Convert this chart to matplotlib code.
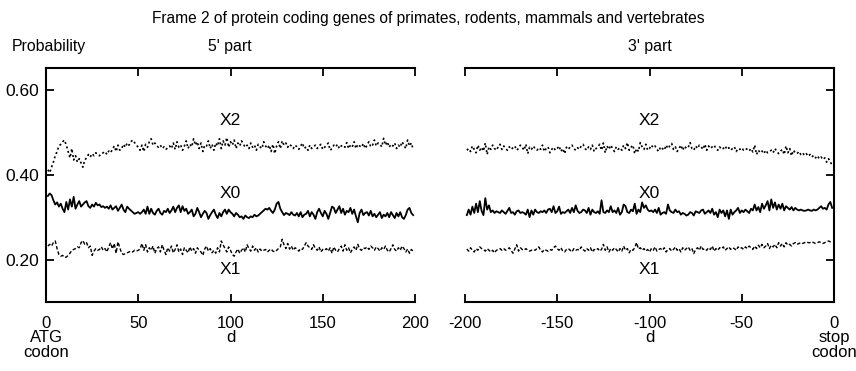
import numpy as np
import matplotlib
matplotlib.use("Agg")
import matplotlib.pyplot as plt

plt.rcParams['font.family'] = ['Liberation Sans', 'DejaVu Sans']

# ---------------- data ----------------
d_left = np.arange(1, 200)
d_right = np.arange(-199, 0)

left_x2 = [
    0.412, 0.405, 0.418, 0.430, 0.445, 0.455, 0.468, 0.472, 0.478, 0.482,
    0.470, 0.455, 0.440, 0.462, 0.435, 0.445, 0.430, 0.438, 0.428, 0.418,
    0.435, 0.440, 0.448, 0.442, 0.450, 0.445, 0.452, 0.448, 0.445, 0.450,
    0.452, 0.455, 0.448, 0.456, 0.452, 0.460, 0.468, 0.455, 0.470, 0.458,
    0.462, 0.472, 0.465, 0.475, 0.470, 0.478, 0.482, 0.476, 0.470, 0.465,
    0.458, 0.470, 0.455, 0.472, 0.465, 0.478, 0.485, 0.470, 0.475, 0.468,
    0.465, 0.470, 0.462, 0.466, 0.460, 0.464, 0.468, 0.462, 0.475, 0.460,
    0.478, 0.465, 0.470, 0.458, 0.468, 0.480, 0.462, 0.472, 0.466, 0.485,
    0.470, 0.478, 0.462, 0.475, 0.455, 0.470, 0.468, 0.480, 0.462, 0.472,
    0.458, 0.475, 0.468, 0.485, 0.462, 0.480, 0.470, 0.488, 0.465, 0.478,
    0.470, 0.482, 0.462, 0.475, 0.468, 0.480, 0.472, 0.465, 0.470, 0.462,
    0.475, 0.465, 0.470, 0.458, 0.472, 0.466, 0.462, 0.478, 0.468, 0.462,
    0.470, 0.455, 0.472, 0.450, 0.468, 0.478, 0.462, 0.480, 0.470, 0.475,
    0.465, 0.472, 0.468, 0.462, 0.470, 0.466, 0.460, 0.468, 0.475, 0.462,
    0.466, 0.458, 0.470, 0.462, 0.466, 0.470, 0.462, 0.468, 0.472, 0.460,
    0.465, 0.470, 0.475, 0.458, 0.462, 0.470, 0.466, 0.472, 0.462, 0.468,
    0.470, 0.465, 0.476, 0.462, 0.470, 0.466, 0.478, 0.462, 0.472, 0.468,
    0.465, 0.474, 0.462, 0.470, 0.478, 0.466, 0.470, 0.482, 0.468, 0.475,
    0.472, 0.466, 0.486, 0.470, 0.478, 0.465, 0.472, 0.468, 0.475, 0.462,
    0.470, 0.465, 0.478, 0.470, 0.462, 0.482, 0.468, 0.475, 0.460,
]

left_x0 = [
    0.350, 0.356, 0.352, 0.340, 0.330, 0.335, 0.325, 0.332, 0.320, 0.312,
    0.336, 0.318, 0.342, 0.325, 0.348, 0.320, 0.330, 0.338, 0.325, 0.330,
    0.335, 0.338, 0.326, 0.322, 0.330, 0.325, 0.334, 0.328, 0.330, 0.324,
    0.326, 0.322, 0.325, 0.320, 0.328, 0.318, 0.322, 0.326, 0.315, 0.322,
    0.330, 0.318, 0.312, 0.325, 0.320, 0.316, 0.312, 0.308, 0.310, 0.312,
    0.308, 0.312, 0.318, 0.308, 0.325, 0.308, 0.320, 0.310, 0.306, 0.315,
    0.320, 0.310, 0.306, 0.315, 0.312, 0.320, 0.310, 0.316, 0.325, 0.312,
    0.322, 0.328, 0.312, 0.326, 0.315, 0.320, 0.308, 0.312, 0.318, 0.302,
    0.308, 0.322, 0.312, 0.300, 0.308, 0.315, 0.310, 0.296, 0.305, 0.312,
    0.318, 0.306, 0.298, 0.310, 0.302, 0.312, 0.318, 0.308, 0.318, 0.312,
    0.308, 0.302, 0.310, 0.306, 0.300, 0.302, 0.296, 0.304, 0.300, 0.298,
    0.302, 0.300, 0.306, 0.302, 0.304, 0.308, 0.312, 0.316, 0.320, 0.318,
    0.322, 0.315, 0.310, 0.318, 0.332, 0.336, 0.320, 0.312, 0.305, 0.310,
    0.308, 0.305, 0.312, 0.306, 0.304, 0.310, 0.302, 0.312, 0.300, 0.306,
    0.308, 0.315, 0.302, 0.312, 0.306, 0.296, 0.312, 0.320, 0.310, 0.302,
    0.315, 0.308, 0.296, 0.310, 0.325, 0.322, 0.310, 0.318, 0.326, 0.310,
    0.320, 0.306, 0.315, 0.312, 0.322, 0.308, 0.318, 0.302, 0.288, 0.310,
    0.318, 0.305, 0.310, 0.312, 0.304, 0.315, 0.302, 0.308, 0.300, 0.306,
    0.312, 0.298, 0.306, 0.302, 0.310, 0.300, 0.312, 0.305, 0.298, 0.310,
    0.302, 0.312, 0.300, 0.296, 0.305, 0.318, 0.322, 0.310, 0.305,
]

left_x1 = [
    0.232, 0.236, 0.232, 0.240, 0.244, 0.226, 0.212, 0.208, 0.210, 0.205,
    0.206, 0.210, 0.215, 0.222, 0.224, 0.226, 0.230, 0.228, 0.240, 0.245,
    0.236, 0.240, 0.228, 0.232, 0.210, 0.220, 0.226, 0.222, 0.224, 0.230,
    0.222, 0.226, 0.218, 0.230, 0.240, 0.225, 0.238, 0.215, 0.242, 0.228,
    0.215, 0.212, 0.214, 0.216, 0.218, 0.220, 0.218, 0.222, 0.220, 0.222,
    0.225, 0.238, 0.222, 0.235, 0.218, 0.228, 0.222, 0.232, 0.215, 0.226,
    0.230, 0.218, 0.235, 0.222, 0.212, 0.228, 0.220, 0.232, 0.216, 0.224,
    0.235, 0.218, 0.225, 0.212, 0.228, 0.222, 0.216, 0.230, 0.220, 0.226,
    0.215, 0.228, 0.222, 0.218, 0.210, 0.225, 0.232, 0.220, 0.226, 0.216,
    0.222, 0.215, 0.228, 0.218, 0.244, 0.235, 0.226, 0.218, 0.230, 0.222,
    0.212, 0.208, 0.218, 0.225, 0.215, 0.222, 0.228, 0.218, 0.235, 0.226,
    0.220, 0.232, 0.222, 0.228, 0.218, 0.225, 0.220, 0.222, 0.224, 0.218,
    0.222, 0.225, 0.220, 0.218, 0.222, 0.226, 0.230, 0.248, 0.235, 0.226,
    0.238, 0.225, 0.232, 0.222, 0.228, 0.225, 0.220, 0.226, 0.224, 0.232,
    0.240, 0.232, 0.228, 0.224, 0.235, 0.226, 0.222, 0.230, 0.218, 0.224,
    0.222, 0.226, 0.220, 0.228, 0.215, 0.230, 0.222, 0.218, 0.226, 0.232,
    0.220, 0.235, 0.222, 0.228, 0.216, 0.224, 0.230, 0.222, 0.236, 0.225,
    0.222, 0.228, 0.226, 0.230, 0.224, 0.232, 0.228, 0.222, 0.230, 0.226,
    0.220, 0.228, 0.224, 0.232, 0.222, 0.218, 0.226, 0.235, 0.224, 0.220,
    0.228, 0.222, 0.232, 0.226, 0.218, 0.225, 0.215, 0.224, 0.220,
]

right_x2 = [
    0.458, 0.462, 0.455, 0.468, 0.460, 0.452, 0.470, 0.458, 0.465, 0.456,
    0.475, 0.448, 0.466, 0.460, 0.470, 0.462, 0.458, 0.466, 0.472, 0.460,
    0.468, 0.462, 0.458, 0.466, 0.460, 0.464, 0.468, 0.458, 0.462, 0.470,
    0.465, 0.458, 0.472, 0.450, 0.465, 0.460, 0.468, 0.462, 0.458, 0.464,
    0.460, 0.470, 0.455, 0.462, 0.466, 0.452, 0.460, 0.465, 0.458, 0.462,
    0.468, 0.455, 0.462, 0.450, 0.465, 0.460, 0.466, 0.470, 0.462, 0.458,
    0.464, 0.460, 0.468, 0.472, 0.462, 0.458, 0.466, 0.460, 0.470, 0.455,
    0.462, 0.466, 0.472, 0.458, 0.475, 0.452, 0.468, 0.460, 0.470, 0.462,
    0.455, 0.466, 0.460, 0.464, 0.458, 0.470, 0.462, 0.476, 0.458, 0.465,
    0.470, 0.450, 0.462, 0.455, 0.476, 0.466, 0.460, 0.472, 0.458, 0.462,
    0.470, 0.464, 0.468, 0.460, 0.455, 0.466, 0.462, 0.458, 0.470, 0.462,
    0.468, 0.474, 0.460, 0.466, 0.455, 0.462, 0.470, 0.458, 0.468, 0.462,
    0.465, 0.476, 0.462, 0.458, 0.468, 0.462, 0.470, 0.466, 0.460, 0.472,
    0.458, 0.468, 0.462, 0.466, 0.470, 0.462, 0.458, 0.466, 0.460, 0.462,
    0.468, 0.460, 0.464, 0.458, 0.462, 0.466, 0.455, 0.462, 0.460, 0.464,
    0.458, 0.462, 0.460, 0.456, 0.462, 0.454, 0.470, 0.448, 0.458, 0.452,
    0.456, 0.450, 0.458, 0.452, 0.455, 0.458, 0.452, 0.462, 0.455, 0.450,
    0.456, 0.460, 0.448, 0.468, 0.452, 0.462, 0.445, 0.458, 0.452, 0.450,
    0.455, 0.448, 0.452, 0.446, 0.450, 0.444, 0.448, 0.442, 0.446, 0.440,
    0.445, 0.438, 0.442, 0.436, 0.440, 0.430, 0.438, 0.432, 0.420,
]

right_x0 = [
    0.305, 0.318, 0.306, 0.325, 0.310, 0.332, 0.312, 0.338, 0.315, 0.305,
    0.345, 0.318, 0.328, 0.312, 0.316, 0.310, 0.314, 0.312, 0.310, 0.316,
    0.312, 0.308, 0.315, 0.322, 0.310, 0.312, 0.306, 0.314, 0.316, 0.310,
    0.312, 0.310, 0.306, 0.318, 0.300, 0.316, 0.306, 0.318, 0.312, 0.310,
    0.314, 0.312, 0.316, 0.310, 0.318, 0.320, 0.312, 0.326, 0.310, 0.314,
    0.325, 0.308, 0.312, 0.310, 0.314, 0.318, 0.310, 0.322, 0.312, 0.328,
    0.315, 0.310, 0.312, 0.318, 0.316, 0.310, 0.322, 0.306, 0.318, 0.312,
    0.310, 0.314, 0.308, 0.340, 0.312, 0.310, 0.316, 0.312, 0.326, 0.312,
    0.316, 0.310, 0.322, 0.306, 0.312, 0.330, 0.326, 0.312, 0.310, 0.318,
    0.314, 0.332, 0.308, 0.318, 0.312, 0.335, 0.322, 0.328, 0.318, 0.314,
    0.316, 0.312, 0.318, 0.310, 0.322, 0.306, 0.310, 0.312, 0.308, 0.330,
    0.316, 0.312, 0.310, 0.318, 0.312, 0.314, 0.306, 0.310, 0.308, 0.304,
    0.306, 0.312, 0.310, 0.304, 0.314, 0.312, 0.310, 0.316, 0.318, 0.308,
    0.312, 0.316, 0.310, 0.320, 0.306, 0.312, 0.300, 0.318, 0.310, 0.316,
    0.302, 0.316, 0.296, 0.318, 0.306, 0.312, 0.316, 0.322, 0.310, 0.316,
    0.312, 0.318, 0.314, 0.310, 0.320, 0.316, 0.330, 0.316, 0.324, 0.312,
    0.332, 0.320, 0.328, 0.338, 0.316, 0.342, 0.322, 0.335, 0.318, 0.330,
    0.320, 0.332, 0.316, 0.326, 0.322, 0.318, 0.324, 0.316, 0.322, 0.318,
    0.316, 0.318, 0.316, 0.315, 0.316, 0.318, 0.316, 0.315, 0.318, 0.316,
    0.318, 0.322, 0.326, 0.320, 0.322, 0.318, 0.330, 0.336, 0.322,
]

right_x1 = [
    0.225, 0.220, 0.228, 0.222, 0.218, 0.226, 0.222, 0.230, 0.226, 0.224,
    0.220, 0.226, 0.222, 0.218, 0.222, 0.216, 0.222, 0.224, 0.226, 0.222,
    0.226, 0.222, 0.224, 0.228, 0.222, 0.215, 0.225, 0.235, 0.220, 0.228,
    0.224, 0.222, 0.226, 0.222, 0.220, 0.222, 0.224, 0.222, 0.226, 0.230,
    0.222, 0.218, 0.224, 0.222, 0.220, 0.224, 0.222, 0.228, 0.232, 0.226,
    0.222, 0.228, 0.220, 0.218, 0.224, 0.226, 0.222, 0.218, 0.226, 0.222,
    0.224, 0.222, 0.230, 0.224, 0.220, 0.226, 0.222, 0.228, 0.218, 0.224,
    0.222, 0.226, 0.220, 0.224, 0.236, 0.222, 0.230, 0.218, 0.226, 0.222,
    0.228, 0.224, 0.218, 0.226, 0.220, 0.232, 0.222, 0.226, 0.216, 0.224,
    0.222, 0.228, 0.240, 0.225, 0.228, 0.222, 0.226, 0.220, 0.224, 0.218,
    0.226, 0.222, 0.230, 0.220, 0.224, 0.226, 0.222, 0.228, 0.218, 0.224,
    0.226, 0.220, 0.224, 0.230, 0.222, 0.226, 0.218, 0.228, 0.222, 0.226,
    0.230, 0.222, 0.226, 0.214, 0.224, 0.228, 0.222, 0.232, 0.224, 0.226,
    0.222, 0.228, 0.224, 0.232, 0.220, 0.226, 0.222, 0.228, 0.226, 0.230,
    0.222, 0.226, 0.230, 0.224, 0.228, 0.226, 0.222, 0.230, 0.226, 0.228,
    0.224, 0.230, 0.226, 0.232, 0.228, 0.224, 0.232, 0.226, 0.234, 0.228,
    0.236, 0.228, 0.232, 0.238, 0.226, 0.234, 0.230, 0.236, 0.228, 0.240,
    0.232, 0.238, 0.230, 0.240, 0.234, 0.236, 0.232, 0.238, 0.240, 0.236,
    0.238, 0.240, 0.238, 0.240, 0.242, 0.240, 0.240, 0.242, 0.240, 0.238,
    0.240, 0.242, 0.240, 0.238, 0.240, 0.242, 0.244, 0.242, 0.245,
]

series_names = ["X2", "X0", "X1"]
label_y = [0.527, 0.355, 0.176]
left_ticks = [0, 50, 100, 150, 200]
left_ticklabels = ["0\nATG\ncodon", "50", "100\nd", "150", "200"]
right_ticks = [-200, -150, -100, -50, 0]
right_ticklabels = ["-200", "-150", "-100\nd", "-50", "0\nstop\ncodon"]
y_ticks = [0.20, 0.40, 0.60]
y_ticklabels = ["0.20", "0.40", "0.60"]

# ---------------- figure ----------------
fig = plt.figure(figsize=(8.56, 3.71), dpi=100)
axL = fig.add_axes([46 / 856, 1 - 302 / 371, 369 / 856, 234 / 371])
axR = fig.add_axes([465 / 856, 1 - 302 / 371, 369 / 856, 234 / 371])

styles = {"X2": dict(ls=(0, (1.2, 1.6)), lw=1.2),
          "X0": dict(ls="-", lw=1.3),
          "X1": dict(ls=(0, (2.5, 1.5)), lw=1.0)}

for ax, d, data in [(axL, d_left, [left_x2, left_x0, left_x1]),
                    (axR, d_right, [right_x2, right_x0, right_x1])]:
    for name, vals in zip(series_names, data):
        ax.plot(d, vals, color="black", **styles[name])
    ax.set_ylim(0.10, 0.652)
    for sp in ax.spines.values():
        sp.set_linewidth(1.5)
    ax.tick_params(direction="in", length=6, width=1.3, labelsize=12.5,
                   top=True, bottom=True)

axL.set_xlim(0, 200)
axR.set_xlim(-200, 0)
axL.spines["right"].set_visible(False)
axR.spines["left"].set_visible(False)

axL.set_xticks(left_ticks)
axL.set_xticklabels(left_ticklabels, va="top", linespacing=0.95)
axR.set_xticks(right_ticks)
axR.set_xticklabels(right_ticklabels, va="top", linespacing=0.95)
for ax in (axL, axR):
    ax.tick_params(axis="x", pad=10, labelsize=12)
# keep the right-most multi-line label inside the figure
axR.get_xticklabels()[-1].set_horizontalalignment("center")

axL.set_yticks(y_ticks)
axL.set_yticklabels(y_ticklabels)
axL.tick_params(axis="y", left=True, right=False, pad=5)
axR.set_yticks(y_ticks)
axR.tick_params(axis="y", left=False, right=True, labelleft=False, labelright=False)

for ax, xc in [(axL, 100), (axR, -100)]:
    for name, yv in zip(series_names, label_y):
        ax.text(xc, yv, name, ha="center", va="center", fontsize=12.5)

fig.text(0.5, 1 - 18 / 371, "Frame 2 of protein coding genes of primates, rodents, mammals and vertebrates",
         ha="center", va="center", fontsize=11.2)
fig.text(12 / 856, 1 - 46 / 371, "Probability", ha="left", va="center", fontsize=11.4)
fig.text(230 / 856, 1 - 46 / 371, "5' part", ha="center", va="center", fontsize=11.4)
fig.text(650 / 856, 1 - 46 / 371, "3' part", ha="center", va="center", fontsize=11.4)

fig.savefig("out.png", dpi=100)
